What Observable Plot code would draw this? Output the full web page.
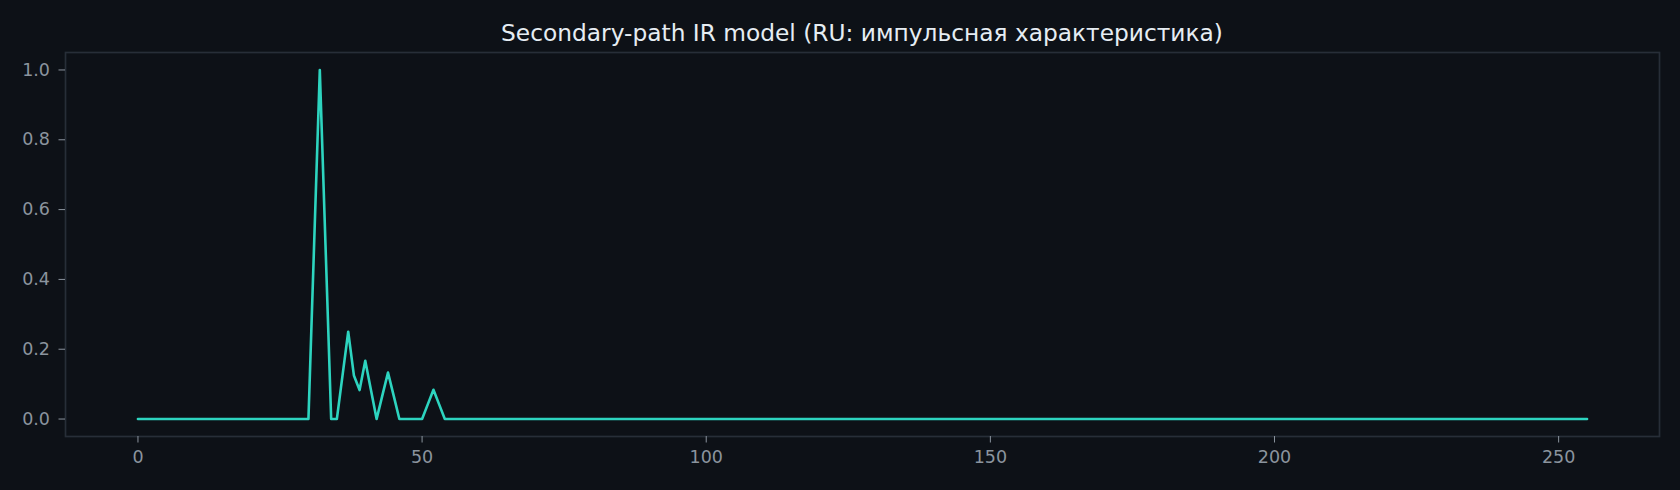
<!DOCTYPE html>
<html>
<head>
<meta charset="utf-8">
<script src="https://cdn.jsdelivr.net/npm/d3@7"></script>
<script src="https://cdn.jsdelivr.net/npm/@observablehq/plot@0.6"></script>
<style>
  html, body { margin: 0; padding: 0; background: #0d1117; }
  #wrap { width: 1680px; height: 490px; background: #0d1117; overflow: hidden; }
  #title { width: 1636px; padding-left: 44px; text-align: center; color: #e6edf3;
           font-family: "DejaVu Sans", sans-serif; font-size: 23.3px; line-height: 24px; padding-top: 21px; height: 23px; box-sizing: content-box; }
</style>
</head>
<body>
<div id="wrap">
  <div id="title">Secondary-path IR model (RU: импульсная характеристика)</div>
  <div id="chart"></div>
</div>
<script>
const titleText = "Secondary-path IR model (RU: импульсная характеристика)";
const xTicks = [0, 50, 100, 150, 200, 250];
const yTicks = [0, 0.2, 0.4, 0.6, 0.8, 1.0];
// impulse response samples, index 0..255
const irValues = [
  0, 0, 0, 0, 0, 0, 0, 0, 0, 0, 0, 0, 0, 0, 0, 0,
  0, 0, 0, 0, 0, 0, 0, 0, 0, 0, 0, 0, 0, 0, 0, 0.5,
  1, 0.5, 0, 0, 0.125, 0.25, 0.125, 0.083, 0.167, 0.083, 0, 0.067, 0.133, 0.067, 0, 0,
  0, 0, 0, 0.042, 0.084, 0.042, 0, 0, 0, 0, 0, 0, 0, 0, 0, 0,
  0, 0, 0, 0, 0, 0, 0, 0, 0, 0, 0, 0, 0, 0, 0, 0,
  0, 0, 0, 0, 0, 0, 0, 0, 0, 0, 0, 0, 0, 0, 0, 0,
  0, 0, 0, 0, 0, 0, 0, 0, 0, 0, 0, 0, 0, 0, 0, 0,
  0, 0, 0, 0, 0, 0, 0, 0, 0, 0, 0, 0, 0, 0, 0, 0,
  0, 0, 0, 0, 0, 0, 0, 0, 0, 0, 0, 0, 0, 0, 0, 0,
  0, 0, 0, 0, 0, 0, 0, 0, 0, 0, 0, 0, 0, 0, 0, 0,
  0, 0, 0, 0, 0, 0, 0, 0, 0, 0, 0, 0, 0, 0, 0, 0,
  0, 0, 0, 0, 0, 0, 0, 0, 0, 0, 0, 0, 0, 0, 0, 0,
  0, 0, 0, 0, 0, 0, 0, 0, 0, 0, 0, 0, 0, 0, 0, 0,
  0, 0, 0, 0, 0, 0, 0, 0, 0, 0, 0, 0, 0, 0, 0, 0,
  0, 0, 0, 0, 0, 0, 0, 0, 0, 0, 0, 0, 0, 0, 0, 0,
  0, 0, 0, 0, 0, 0, 0, 0, 0, 0, 0, 0, 0, 0, 0, 0
];

const data = irValues.map((v, i) => ({n: i, h: v}));
const n = irValues.length - 1;
const xPad = n * 0.05;

const chart = Plot.plot({
  width: 1680,
  height: 446,
  marginTop: 8,
  marginBottom: 54,
  marginLeft: 65,
  marginRight: 21,
  style: {background: "#0d1117", color: "#8b949e", fontFamily: "DejaVu Sans, sans-serif", fontSize: "17.5px"},
  x: {domain: [-xPad, n + xPad]},
  y: {domain: [-0.05, 1.05]},
  marks: [
    Plot.frame({stroke: "#272e38", strokeWidth: 1.7}),
    Plot.axisX({ticks: xTicks, tickFormat: d => String(d), tickSize: 6.5, tickPadding: 8, stroke: "#8b949e", fill: "#8b949e", label: null}),
    Plot.axisY({ticks: yTicks, tickFormat: d3.format(".1f"), tickSize: 6.5, tickPadding: 9, stroke: "#8b949e", fill: "#8b949e", label: null}),
    Plot.lineY(data, {x: "n", y: "h", stroke: "#2dd4bf", strokeWidth: 2.6})
  ]
});
document.getElementById("chart").appendChild(chart);
</script>
</body>
</html>
